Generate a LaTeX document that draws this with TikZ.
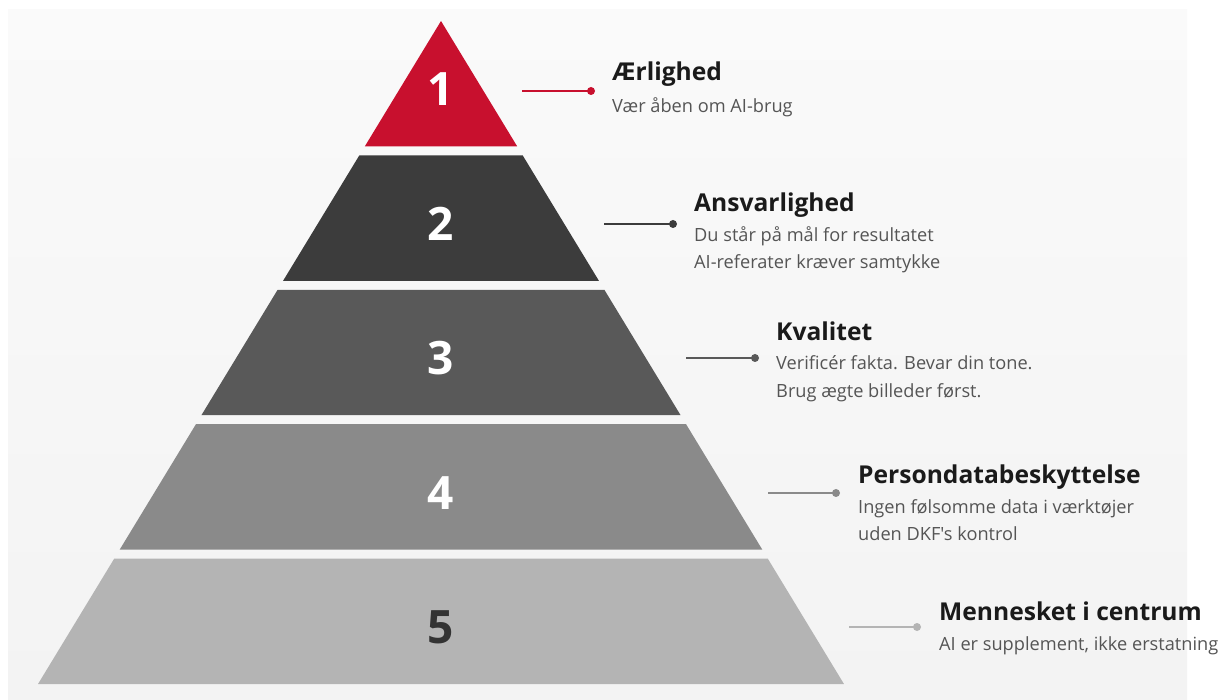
\documentclass[tikz,border=0pt]{standalone}
\usepackage{fontspec}
\setmainfont{Open Sans}[Ligatures=TeXOff]
\definecolor{dkfred}{HTML}{C8102E}
\definecolor{tiertwo}{HTML}{3C3C3C}
\definecolor{tierthree}{HTML}{595959}
\definecolor{tierfour}{HTML}{8A8A8A}
\definecolor{tierfive}{HTML}{B4B4B4}
\definecolor{bgtop}{HTML}{FAFAFA}
\definecolor{bgbot}{HTML}{F3F3F3}
\definecolor{titlecol}{HTML}{1A1A1A}
\definecolor{subcol}{HTML}{555555}
\definecolor{numdark}{HTML}{333333}
\tikzset{
  numlabel/.style={anchor=base, inner sep=0pt, font=\fontsize{46}{46}\selectfont\bfseries},
  titlelabel/.style={anchor=base west, inner sep=0pt, text=titlecol, font=\fontsize{24.6}{28}\selectfont\bfseries},
  sublabel/.style={anchor=base west, inner sep=0pt, text=subcol, font=\fontsize{18.2}{22}\selectfont},
  connector/.style={line width=2.6pt},
  enddot/.style={circle, inner sep=0pt, minimum size=8pt}
}
\begin{document}
\begin{tikzpicture}[x=1pt,y=-1pt]
\useasboundingbox (0,0) rectangle (1227,700);
\fill[white] (0,0) rectangle (1227,700);
\shade[top color=bgtop, bottom color=bgbot] (8,10) rectangle (1187,700);
% tiers
\def\sl{0.6078}
\foreach \k/\col in {1/tiertwo,2/tierthree,3/tierfour,4/tierfive}{
  \pgfmathsetmacro\yt{21+134.4*\k}
  \pgfmathsetmacro\yb{\yt+125.4}
  \pgfmathsetmacro\ht{\sl*(\yt-21)}
  \pgfmathsetmacro\hb{\sl*(\yb-21)}
  \fill[\col] (441-\ht,\yt) -- (441+\ht,\yt) -- (441+\hb,\yb) -- (441-\hb,\yb) -- cycle;
}
\fill[dkfred] (441,21) -- (441+76.2,146.4) -- (441-76.2,146.4) -- cycle;
% numbers
\node[numlabel, text=white] (n1) at (441,106) {1};
\node[numlabel, text=white] (n2) at (441,240.4) {2};
\node[numlabel, text=white] (n3) at (441,374.8) {3};
\node[numlabel, text=white] (n4) at (441,509.2) {4};
\node[numlabel, text=numdark] (n5) at (441,643.6) {5};
% connectors
\coordinate (s1) at (522,91);   \node[enddot, fill=dkfred] (d1) at (591,91) {};
\coordinate (s2) at (604,224);  \node[enddot, fill=tiertwo] (d2) at (673,224) {};
\coordinate (s3) at (686,358);  \node[enddot, fill=tierthree] (d3) at (755,358) {};
\coordinate (s4) at (768,493);  \node[enddot, fill=tierfour] (d4) at (836,493) {};
\coordinate (s5) at (849,627);  \node[enddot, fill=tierfive] (d5) at (917,627) {};
\draw[connector, dkfred] (s1) -- (d1.center);
\draw[connector, tiertwo] (s2) -- (d2.center);
\draw[connector, tierthree] (s3) -- (d3.center);
\draw[connector, tierfour] (s4) -- (d4.center);
\draw[connector, tierfive] (s5) -- (d5.center);
% texts
\node[titlelabel] (t1) at (612,81) {Ærlighed};
\node[sublabel] (u1) at (612,113) {Vær åben om AI-brug};
\node[titlelabel] (t2) at (694,211.7) {Ansvarlighed};
\node[sublabel] (u2a) at (694,241.7) {Du står på mål for resultatet};
\node[sublabel] (u2b) at (694,268.5) {AI-referater kræver samtykke};
\node[titlelabel] (t3) at (776,340.7) {Kvalitet};
\node[sublabel] (u3a) at (776,370) {Verificér fakta. Bevar din tone.};
\node[sublabel] (u3b) at (776,397.3) {Brug ægte billeder først.};
\node[titlelabel] (t4) at (858,483.3) {Persondatabeskyttelse};
\node[sublabel] (u4a) at (858,513.3) {Ingen følsomme data i værktøjer};
\node[sublabel] (u4b) at (858,540.7) {uden DKF's kontrol};
\node[titlelabel] (t5) at (939,620) {Mennesket i centrum};
\node[sublabel] (u5) at (939,650) {AI er supplement, ikke erstatning};
\end{tikzpicture}
\end{document}
